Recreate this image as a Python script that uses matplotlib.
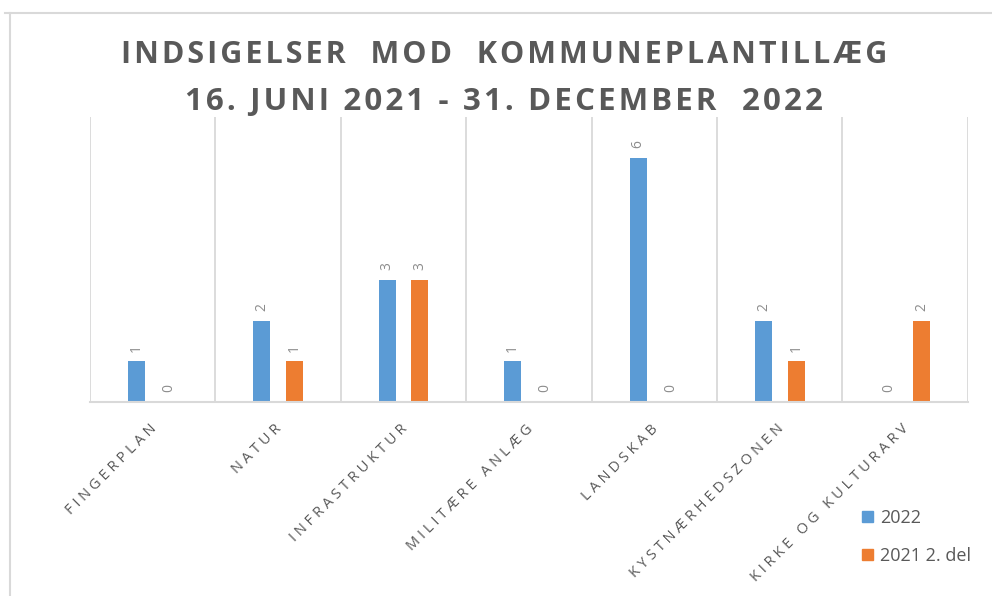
import numpy as np
import matplotlib
matplotlib.use("Agg")
import matplotlib.pyplot as plt
from matplotlib.patches import Patch

plt.rcParams['font.family'] = ['Open Sans', 'DejaVu Sans']

# data
categories = ['FINGERPLAN', 'NATUR', 'INFRASTRUKTUR', 'MILITÆRE ANLÆG',
              'LANDSKAB', 'KYSTNÆRHEDSZONEN', 'KIRKE OG KULTURARV']
vals_2022 = [1, 2, 3, 1, 6, 2, 0]
vals_2021 = [0, 1, 3, 0, 0, 1, 2]
series_names = ['2022', '2021 2. del']

blue = '#5b9bd5'
orange = '#ed7d31'
grid_c = '#d9d9d9'
txt_c = '#595959'
lbl_c = '#8c8c8c'

def spaced(s, sep='\u2009\u200a'):
    # crude letter spacing
    return sep.join(s)

fig = plt.figure(figsize=(9.92, 5.96), dpi=100)
ax = fig.add_axes([0.0907, 0.3255, 0.885, 0.4782])

x = np.arange(len(categories))
w = 0.135
off = 0.13
b1 = ax.bar(x - off, vals_2022, w, color=blue)
b2 = ax.bar(x + off, vals_2021, w, color=orange)

for bars in (b1, b2):
    for r in bars:
        h = r.get_height()
        ax.annotate(str(int(h)), (r.get_x() + r.get_width() / 2, h),
                    xytext=(0, 7), textcoords='offset points',
                    rotation=90, ha='center', va='bottom',
                    fontsize=10, color=lbl_c)

ax.set_xlim(-0.5, len(categories) - 0.5)
ax.set_ylim(0, 7)

# vertical separators between categories
for b in np.arange(-0.5, len(categories), 1.0):
    ax.axvline(b, color=grid_c, lw=1.3, zorder=0)

for s in ['top', 'right', 'left']:
    ax.spines[s].set_visible(False)
ax.spines['bottom'].set_color(grid_c)
ax.spines['bottom'].set_linewidth(1.5)
ax.set_yticks([])
ax.set_xticks(x - 0.03)
ax.set_xticklabels([spaced(c) for c in categories], rotation=45,
                   ha='right', rotation_mode='anchor', fontsize=10.5, color=txt_c)
ax.tick_params(axis='x', length=0, pad=14)

fig.text(0.508, 0.908, spaced('INDSIGELSER  MOD  KOMMUNEPLANTILLÆG', '\u200a'),
         ha='center', va='center', fontsize=22, fontweight='bold', color=txt_c)
fig.text(0.508, 0.829, spaced('16. JUNI 2021 - 31. DECEMBER  2022', '\u200a'),
         ha='center', va='center', fontsize=22.5, fontweight='bold', color=txt_c)

handles = [Patch(color=blue), Patch(color=orange)]
fig.legend(handles, series_names, loc='upper left', bbox_to_anchor=(0.862, 0.158),
           bbox_transform=fig.transFigure, frameon=False, fontsize=13,
           labelcolor=txt_c, handlelength=0.6, handleheight=0.6,
           handletextpad=0.4, labelspacing=1.1, borderaxespad=0)

# outer chart border (top and left edge visible)
fig.add_artist(plt.Line2D([0.005, 1.0], [0.978, 0.978], color=grid_c, lw=1.5,
                          transform=fig.transFigure))
fig.add_artist(plt.Line2D([0.01, 0.01], [0.0, 0.978], color=grid_c, lw=1.5,
                          transform=fig.transFigure))

fig.savefig('out.png', dpi=100)
